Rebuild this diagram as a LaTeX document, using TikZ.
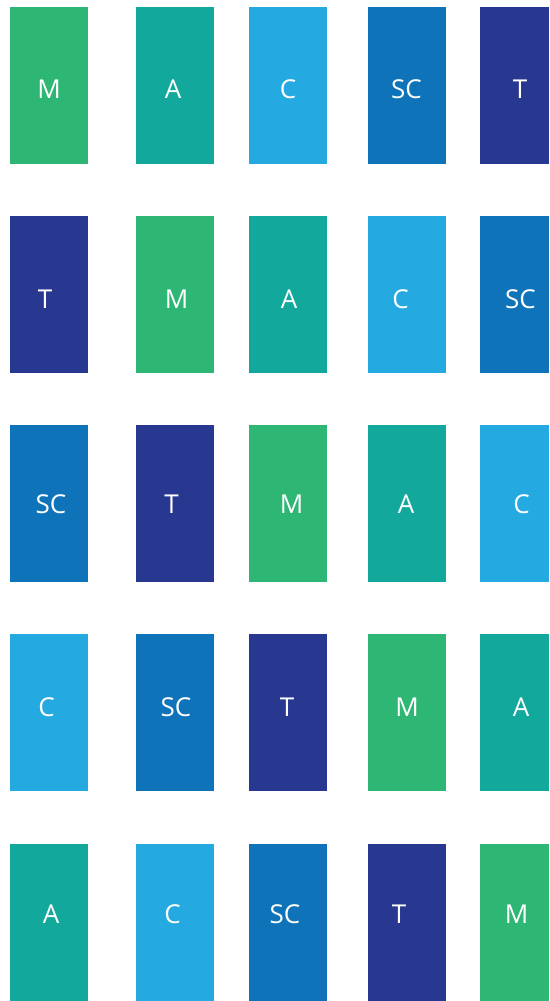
\documentclass[tikz,border=0pt]{standalone}
\usepackage{fontspec}
\setmainfont{Open Sans}
\definecolor{cM}{HTML}{2DB674}
\definecolor{cA}{HTML}{13A89C}
\definecolor{cC}{HTML}{25A9E1}
\definecolor{cSC}{HTML}{0F73B9}
\definecolor{cT}{HTML}{283891}
\tikzset{
  box/.style={inner sep=0pt, minimum width=78pt, minimum height=157pt, draw=none},
  lastbox/.style={box, minimum width=69pt},
  lbl/.style={text=white, anchor=base, inner sep=0pt, font=\fontsize{26}{26}\selectfont}
}
\begin{document}
\begin{tikzpicture}[x=1pt,y=-1pt]
\useasboundingbox[fill=white] (0,0) rectangle (549,1001);
% row centers
\def\ra{85.5}\def\rb{294.5}\def\rc{503.5}\def\rd{712.5}\def\re{922.5}
% row 1
\node[box,fill=cM]  (b11) at (49,\ra) {};
\node[box,fill=cA]  (b12) at (175,\ra) {};
\node[box,fill=cC]  (b13) at (288,\ra) {};
\node[box,fill=cSC] (b14) at (407,\ra) {};
\node[lastbox,fill=cT] (b15) at (514.5,\ra) {};
% row 2
\node[box,fill=cT]  (b21) at (49,\rb) {};
\node[box,fill=cM]  (b22) at (175,\rb) {};
\node[box,fill=cA]  (b23) at (288,\rb) {};
\node[box,fill=cC]  (b24) at (407,\rb) {};
\node[lastbox,fill=cSC] (b25) at (514.5,\rb) {};
% row 3
\node[box,fill=cSC] (b31) at (49,\rc) {};
\node[box,fill=cT]  (b32) at (175,\rc) {};
\node[box,fill=cM]  (b33) at (288,\rc) {};
\node[box,fill=cA]  (b34) at (407,\rc) {};
\node[lastbox,fill=cC] (b35) at (514.5,\rc) {};
% row 4
\node[box,fill=cC]  (b41) at (49,\rd) {};
\node[box,fill=cSC] (b42) at (175,\rd) {};
\node[box,fill=cT]  (b43) at (288,\rd) {};
\node[box,fill=cM]  (b44) at (407,\rd) {};
\node[lastbox,fill=cA] (b45) at (514.5,\rd) {};
% row 5
\node[box,fill=cA]  (b51) at (49,\re) {};
\node[box,fill=cC]  (b52) at (175,\re) {};
\node[box,fill=cSC] (b53) at (288,\re) {};
\node[box,fill=cT]  (b54) at (407,\re) {};
\node[lastbox,fill=cM] (b55) at (514.5,\re) {};
% labels row 1
\node[lbl] (l11) at (49,98) {M};
\node[lbl] (l12) at (173,98) {A};
\node[lbl] (l13) at (288,98) {C};
\node[lbl] (l14) at (406.5,98) {SC};
\node[lbl] (l15) at (520,98) {T};
% labels row 2
\node[lbl] (l21) at (45,308.5) {T};
\node[lbl] (l22) at (176.5,308.5) {M};
\node[lbl] (l23) at (289,308.5) {A};
\node[lbl] (l24) at (400.5,308.5) {C};
\node[lbl] (l25) at (520.5,308.5) {SC};
% labels row 3
\node[lbl] (l31) at (51,513) {SC};
\node[lbl] (l32) at (171.5,513) {T};
\node[lbl] (l33) at (291.5,513) {M};
\node[lbl] (l34) at (406,513) {A};
\node[lbl] (l35) at (521.5,513) {C};
% labels row 4
\node[lbl] (l41) at (46.5,716.5) {C};
\node[lbl] (l42) at (176,716.5) {SC};
\node[lbl] (l43) at (287,716.5) {T};
\node[lbl] (l44) at (407,716.5) {M};
\node[lbl] (l45) at (521,716.5) {A};
% labels row 5
\node[lbl] (l51) at (51,923.5) {A};
\node[lbl] (l52) at (172.5,923.5) {C};
\node[lbl] (l53) at (285,923.5) {SC};
\node[lbl] (l54) at (399,923.5) {T};
\node[lbl] (l55) at (516.5,923.5) {M};
\end{tikzpicture}
\end{document}
